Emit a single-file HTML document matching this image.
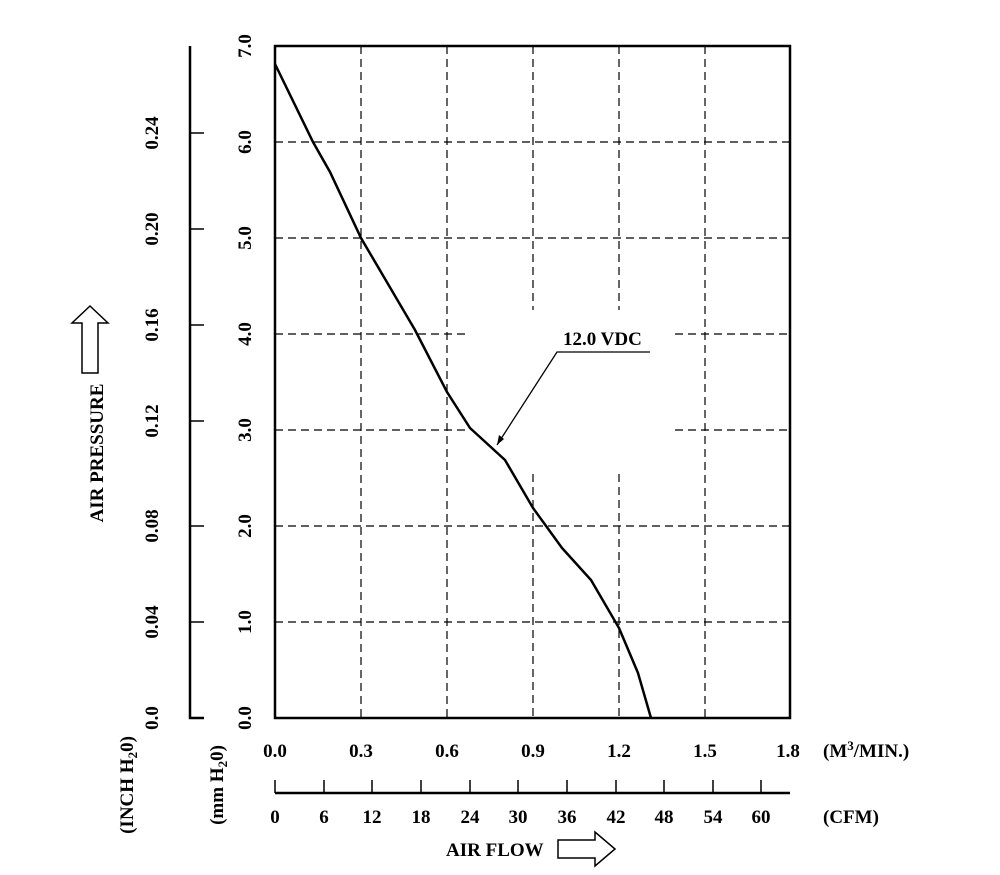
<!DOCTYPE html>
<html><head><style>
body{margin:0;background:#fff}
svg text{font-family:"Liberation Serif",serif;font-weight:bold;font-size:19px;fill:#000}
</style></head><body>
<svg width="1000" height="870" xmlns="http://www.w3.org/2000/svg">
<g stroke="#000" stroke-width="1.2" stroke-dasharray="8,5" fill="none">
<line x1="361" y1="46" x2="361" y2="718"/>
<line x1="447" y1="46" x2="447" y2="718"/>
<line x1="533" y1="46" x2="533" y2="310"/><line x1="533" y1="474" x2="533" y2="718"/>
<line x1="619" y1="46" x2="619" y2="310"/><line x1="619" y1="474" x2="619" y2="718"/>
<line x1="705" y1="46" x2="705" y2="718"/>
<line x1="275" y1="142" x2="790" y2="142"/>
<line x1="275" y1="238" x2="790" y2="238"/>
<line x1="275" y1="334" x2="469" y2="334"/><line x1="675" y1="334" x2="790" y2="334"/>
<line x1="275" y1="430" x2="469" y2="430"/><line x1="675" y1="430" x2="790" y2="430"/>
<line x1="275" y1="526" x2="790" y2="526"/>
<line x1="275" y1="622" x2="790" y2="622"/>
</g>
<rect x="275" y="46" width="515" height="672" fill="none" stroke="#000" stroke-width="2.5"/>
<polyline fill="none" stroke="#000" stroke-width="2.5" points="275,64 313,142 330,172 361,238 415,330 447,392 470,428 505,460 533,508 562,548 591,580 619,628 638,673 651,718"/>
<polyline fill="none" stroke="#000" stroke-width="1.3" points="650,352 557,352 497,445"/>
<polygon points="497,445 499,435 504,439" fill="#000"/>
<text x="563" y="345" font-size="18">12.0 VDC</text>
<g stroke="#000" stroke-width="2.5" fill="none"><polyline points="190,46 190,718 204,718"/></g>
<g stroke="#000" stroke-width="1.5">
<line x1="190" y1="133" x2="204" y2="133"/><line x1="190" y1="229" x2="204" y2="229"/>
<line x1="190" y1="325" x2="204" y2="325"/><line x1="190" y1="421" x2="204" y2="421"/>
<line x1="190" y1="526" x2="204" y2="526"/><line x1="190" y1="622" x2="204" y2="622"/>
</g>
<g text-anchor="middle">
<text transform="translate(158,718) rotate(-90)">0.0</text>
<text transform="translate(158,622) rotate(-90)">0.04</text>
<text transform="translate(158,526) rotate(-90)">0.08</text>
<text transform="translate(158,421) rotate(-90)">0.12</text>
<text transform="translate(158,325) rotate(-90)">0.16</text>
<text transform="translate(158,229) rotate(-90)">0.20</text>
<text transform="translate(158,133) rotate(-90)">0.24</text>
<text transform="translate(251,718) rotate(-90)">0.0</text>
<text transform="translate(251,622) rotate(-90)">1.0</text>
<text transform="translate(251,526) rotate(-90)">2.0</text>
<text transform="translate(251,430) rotate(-90)">3.0</text>
<text transform="translate(251,334) rotate(-90)">4.0</text>
<text transform="translate(251,238) rotate(-90)">5.0</text>
<text transform="translate(251,142) rotate(-90)">6.0</text>
<text transform="translate(251,46) rotate(-90)">7.0</text>
<text transform="translate(103,453) rotate(-90)">AIR PRESSURE</text>
<text transform="translate(133,785) rotate(-90)">(INCH H<tspan font-size="13" dy="4">2</tspan><tspan dy="-4">0)</tspan></text>
<text transform="translate(223,785) rotate(-90)">(mm H<tspan font-size="13" dy="4">2</tspan><tspan dy="-4">0)</tspan></text>
<text x="275" y="757">0.0</text><text x="361" y="757">0.3</text><text x="447" y="757">0.6</text>
<text x="533" y="757">0.9</text><text x="619" y="757">1.2</text><text x="705" y="757">1.5</text>
<text x="788" y="757">1.8</text>
<text x="275" y="823">0</text><text x="324" y="823">6</text><text x="372" y="823">12</text>
<text x="421" y="823">18</text><text x="470" y="823">24</text><text x="518" y="823">30</text>
<text x="567" y="823">36</text><text x="616" y="823">42</text><text x="664" y="823">48</text>
<text x="713" y="823">54</text><text x="761" y="823">60</text>
</g>
<text x="823" y="757">(M<tspan font-size="13" dy="-7">3</tspan><tspan dy="7">/MIN.)</tspan></text>
<text x="823" y="823">(CFM)</text>
<text x="446" y="856">AIR FLOW</text>
<line x1="275" y1="793" x2="790" y2="793" stroke="#000" stroke-width="2.5"/>
<g stroke="#000" stroke-width="1.5">
<line x1="275" y1="780" x2="275" y2="793"/><line x1="324" y1="780" x2="324" y2="793"/><line x1="372" y1="780" x2="372" y2="793"/>
<line x1="421" y1="780" x2="421" y2="793"/><line x1="470" y1="780" x2="470" y2="793"/><line x1="518" y1="780" x2="518" y2="793"/>
<line x1="567" y1="780" x2="567" y2="793"/><line x1="616" y1="780" x2="616" y2="793"/><line x1="664" y1="780" x2="664" y2="793"/>
<line x1="713" y1="780" x2="713" y2="793"/><line x1="761" y1="780" x2="761" y2="793"/>
</g>
<polygon points="90,306 108,323 98,323 98,373 82,373 82,323 72,323" fill="none" stroke="#000" stroke-width="1.5"/>
<polygon points="558,840 595,840 595,832 615,849 595,866 595,858 558,858" fill="none" stroke="#000" stroke-width="1.5"/>
</svg>
</body></html>
